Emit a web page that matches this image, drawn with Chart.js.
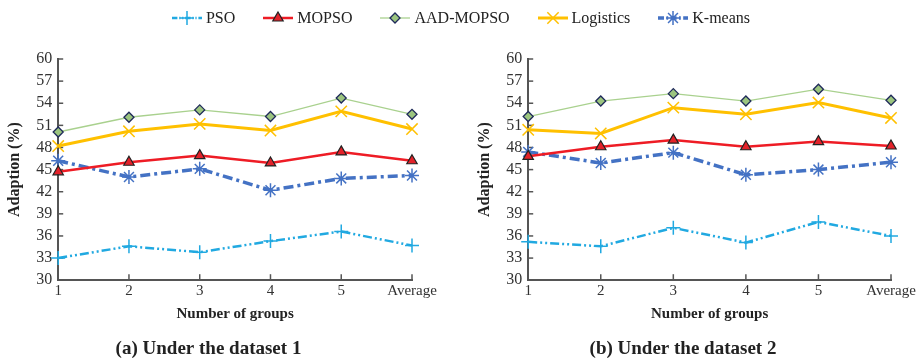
<!DOCTYPE html>
<html>
<head>
<meta charset="utf-8">
<script src="https://cdn.jsdelivr.net/npm/chart.js@4"></script>
<style>
  body { margin: 0; background: #fff; }
  #wrap { position: relative; width: 922px; height: 360px; }
  #legend { position: absolute; top: 6px; left: 0; width: 922px; height: 24px; display: flex; justify-content: center; align-items: center;
            font-family: "Liberation Serif", serif; font-size: 16px; color: #222; }
  .item { display: flex; align-items: center; margin: 0 14px; }
  .item canvas { margin-right: 4px; }
  #c1, #c2 { position: absolute; top: 0; }
  #c1 { left: 0; }
  #c2 { left: 461px; }
</style>
</head>
<body>
<div id="wrap">
  <canvas id="c1" width="461" height="360"></canvas>
  <canvas id="c2" width="461" height="360"></canvas>
  <div id="legend"></div>
</div>
<script>
const groups = ['1', '2', '3', '4', '5', 'Average'];
const yTicks = [30, 33, 36, 39, 42, 45, 48, 51, 54, 57, 60];

// dataset 1
const pso1      = [33.0, 34.6, 33.8, 35.3, 36.6, 34.7];
const mopso1    = [44.7, 46.0, 46.9, 45.9, 47.4, 46.2];
const aadMopso1 = [50.1, 52.1, 53.1, 52.2, 54.7, 52.5];
const logistic1 = [48.2, 50.2, 51.2, 50.3, 52.9, 50.5];
const kmeans1   = [46.2, 44.0, 45.1, 42.2, 43.8, 44.2];

// dataset 2
const pso2      = [35.2, 34.6, 37.1, 35.1, 37.9, 36.0];
const mopso2    = [46.8, 48.1, 49.0, 48.1, 48.8, 48.2];
const aadMopso2 = [52.2, 54.3, 55.3, 54.3, 55.9, 54.4];
const logistic2 = [50.4, 49.9, 53.4, 52.5, 54.1, 52.0];
const kmeans2   = [47.4, 45.9, 47.3, 44.3, 45.0, 46.0];

const FONT = '"Liberation Serif", "Times New Roman", serif';
const AXIS = '#555';

const styles = {
  'PSO':       { color: '#21a9e1', width: 2.5, dash: [9, 3, 2, 3, 2, 3], point: 'cross',    radius: 7, fill: '#21a9e1', edge: '#21a9e1', pw: 1.5 },
  'MOPSO':     { color: '#ee1c25', width: 2.5, dash: [],                 point: 'triangle', radius: 6, fill: '#e3222a', edge: '#222',    pw: 1.2 },
  'AAD-MOPSO': { color: '#a9d18e', width: 1.3, dash: [],                 point: 'rectRot',  radius: 5, fill: '#9cc57f', edge: '#1f2a5a', pw: 1.3 },
  'Logistics': { color: '#ffc000', width: 3,   dash: [],                 point: 'crossRot', radius: 8, fill: '#ffc000', edge: '#ffc000', pw: 1.5 },
  'K-means':   { color: '#4472c4', width: 3.5, dash: [10, 4, 3, 4],      point: 'star',     radius: 7, fill: '#4472c4', edge: '#4472c4', pw: 1.5 }
};

function ds(label, data) {
  const s = styles[label];
  return {
    label: label, data: data,
    borderColor: s.color, borderWidth: s.width, borderDash: s.dash,
    pointStyle: s.point, pointRadius: s.radius, pointBackgroundColor: s.fill,
    pointBorderColor: s.edge, pointBorderWidth: s.pw, tension: 0, clip: false
  };
}

// small ticks pointing into the plot area
const innerTicks = {
  id: 'innerTicks',
  beforeDatasetsDraw(chart) {
    const { ctx, chartArea, scales: { x, y } } = chart;
    ctx.save();
    ctx.strokeStyle = AXIS;
    ctx.lineWidth = 1.5;
    y.ticks.forEach((t, i) => {
      const py = y.getPixelForTick(i);
      ctx.beginPath(); ctx.moveTo(chartArea.left, py); ctx.lineTo(chartArea.left + 5, py); ctx.stroke();
    });
    x.ticks.forEach((t, i) => {
      const px = x.getPixelForTick(i);
      ctx.beginPath(); ctx.moveTo(px, chartArea.bottom); ctx.lineTo(px, chartArea.bottom - 6); ctx.stroke();
    });
    ctx.restore();
  }
};

function makeChart(id, caption, sets, padL, padR) {
  return new Chart(document.getElementById(id), {
    type: 'line',
    data: {
      labels: groups,
      datasets: [
        ds('PSO', sets[0]), ds('MOPSO', sets[1]), ds('AAD-MOPSO', sets[2]),
        ds('Logistics', sets[3]), ds('K-means', sets[4])
      ]
    },
    options: {
      responsive: false,
      animation: false,
      layout: { padding: { top: 59, left: padL, right: padR, bottom: 0 } },
      plugins: {
        legend: { display: false },
        tooltip: { enabled: false },
        title: {
          display: true, text: caption, position: 'bottom', color: '#222',
          font: { family: FONT, size: 19, weight: 'bold' }, padding: { top: 14, bottom: 0 }
        }
      },
      scales: {
        x: {
          offset: false,
          grid: { display: false, drawTicks: false, tickLength: 0 },
          border: { display: true, color: AXIS, width: 2 },
          ticks: { color: '#333', font: { family: FONT, size: 15 }, padding: 2, maxRotation: 0, autoSkip: false },
          title: { display: true, text: 'Number of groups', color: '#222',
                   font: { family: FONT, size: 15, weight: 'bold' }, padding: { top: 3, bottom: 0 } }
        },
        y: {
          min: 30, max: 60,
          afterBuildTicks(scale) { scale.ticks = yTicks.map(v => ({ value: v })); },
          grid: { display: false, drawTicks: false, tickLength: 0 },
          border: { display: true, color: AXIS, width: 2 },
          ticks: { color: '#333', font: { family: FONT, size: 16 }, padding: 6, autoSkip: false },
          title: { display: true, text: 'Adaption (%)', color: '#222',
                   font: { family: FONT, size: 16, weight: 'bold' }, padding: { top: 0, bottom: 6 } }
        }
      }
    },
    plugins: [innerTicks]
  });
}

makeChart('c1', '(a) Under the dataset 1', [pso1, mopso1, aadMopso1, logistic1, kmeans1], 5, 49);
makeChart('c2', '(b) Under the dataset 2', [pso2, mopso2, aadMopso2, logistic2, kmeans2], 14, 31);

// legend with line + marker icons
const legend = document.getElementById('legend');
Object.keys(styles).forEach(name => {
  const s = styles[name];
  const item = document.createElement('div');
  item.className = 'item';
  const c = document.createElement('canvas');
  c.width = 30; c.height = 20;
  const g = c.getContext('2d');
  g.strokeStyle = s.color; g.lineWidth = s.width; g.setLineDash(s.dash.length ? s.dash.map(v => v * 0.6) : []);
  g.beginPath(); g.moveTo(0, 10); g.lineTo(30, 10); g.stroke();
  g.setLineDash([]);
  g.fillStyle = s.fill; g.strokeStyle = s.edge; g.lineWidth = s.pw;
  Chart.helpers.drawPoint(g, { pointStyle: s.point, radius: s.radius, borderWidth: s.pw }, 15, 10);
  const t = document.createElement('span');
  t.textContent = name;
  item.appendChild(c); item.appendChild(t);
  legend.appendChild(item);
});
</script>
</body>
</html>
